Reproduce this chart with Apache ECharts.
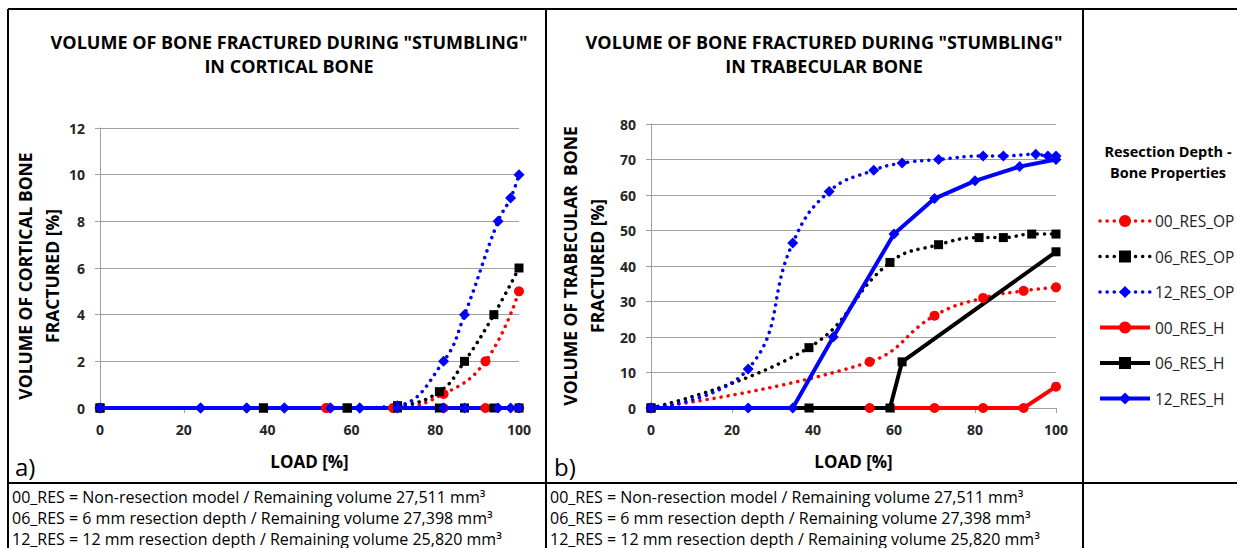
<!DOCTYPE html>
<html>
<head>
<meta charset="utf-8">
<title>Volume of bone fractured during stumbling</title>
<script src="https://cdn.jsdelivr.net/npm/echarts@6/dist/echarts.min.js"></script>
<style>
  html, body { margin: 0; padding: 0; background: #fff; }
  #main { width: 1237px; height: 548px; }
</style>
</head>
<body>
<div id="main"></div>
<script>
// load positions [%] of each model
const loadRes00 = [0, 54, 70, 82, 92, 100]
const loadRes06 = [0, 39, 59, 71, 81, 87, 94, 100]
const loadRes12 = [0, 24, 35, 44, 55, 62, 71, 82, 87, 95, 98, 100]
const loadRes06H = [0, 39, 59, 62, 100]
const loadRes12H = [0, 24, 35, 45, 60, 70, 80, 91, 100]

// a) cortical bone fractured [%]
const cortOP00 = [0, 0, 0, 0.6, 2, 5]
const cortOP06 = [0, 0, 0, 0.1, 0.7, 2, 4, 6]
const cortOP12 = [0, 0, 0, 0, 0, 0, 0.1, 2, 4, 8, 9, 10]
const cortH00 = [0, 0, 0, 0, 0, 0]
const cortH06 = [0, 0, 0, 0, 0, 0, 0, 0]
const cortH12 = [0, 0, 0, 0, 0, 0, 0, 0, 0, 0, 0, 0]

// b) trabecular bone fractured [%]
const trabOP00 = [0, 13, 26, 31, 33, 34]
const trabOP06 = [0, 17, 41, 46, 48, 48, 49, 49]
const trabOP12 = [0, 11, 46.5, 61, 67, 69, 70, 71, 71, 71.5, 71, 71]
const trabH00 = [0, 0, 0, 0, 0, 6]
const trabH06 = [0, 0, 0, 13, 44]
const trabH12 = [0, 0, 0, 20, 49, 59, 64, 68, 70]

const seriesNames = ['00_RES_OP', '06_RES_OP', '12_RES_OP', '00_RES_H', '06_RES_H', '12_RES_H']

const notes = [
  '00_RES = Non-resection model / Remaining volume 27,511 mm³',
  '06_RES = 6 mm resection depth / Remaining volume 27,398 mm³',
  '12_RES = 12 mm resection depth / Remaining volume 25,820 mm³'
]

const FONT = 'Open Sans'
const RED = '#ff0000'
const BLACK = '#000000'
const BLUE = '#0000ff'
const DOT = [0.1, 7]

const pair = (xs, ys) => xs.map((x, i) => [x, ys[i]])

function opLine(name, color, symbol, size, xs, ys, idx) {
  return {
    name: name, type: 'line', xAxisIndex: idx, yAxisIndex: idx,
    data: pair(xs, ys),
    smooth: 0.45,
    symbol: symbol, symbolSize: size,
    itemStyle: { color: color },
    lineStyle: { color: color, width: 3.5, type: DOT, cap: 'round' }
  }
}
function hLine(name, color, symbol, size, xs, ys, idx) {
  return {
    name: name, type: 'line', xAxisIndex: idx, yAxisIndex: idx,
    data: pair(xs, ys),
    symbol: symbol, symbolSize: size,
    itemStyle: { color: color },
    lineStyle: { color: color, width: 4 }
  }
}

function xAxisOf(idx) {
  return {
    type: 'value', gridIndex: idx, min: 0, max: 100, interval: 20,
    name: 'LOAD [%]', nameLocation: 'middle', nameGap: 45,
    nameTextStyle: { fontFamily: FONT, fontWeight: 'bold', fontSize: 17, color: '#000' },
    splitLine: { show: false },
    axisLine: { lineStyle: { color: '#a0a0a0', width: 1 } },
    axisTick: { show: true, length: 5, lineStyle: { color: '#a0a0a0' } },
    axisLabel: { fontFamily: FONT, fontWeight: 'bold', fontSize: 14, color: '#262626', margin: 14 }
  }
}
function yAxisOf(idx, max, interval, name, gap, pad) {
  return {
    type: 'value', gridIndex: idx, min: 0, max: max, interval: interval,
    name: name, nameLocation: 'middle', nameGap: gap,
    nameTextStyle: { fontFamily: FONT, fontWeight: 'bold', fontSize: 17.5, color: '#000', lineHeight: 27, padding: pad },
    splitLine: { show: true, lineStyle: { color: '#a0a0a0', width: 1 } },
    axisLine: { show: true, lineStyle: { color: '#a0a0a0', width: 1 } },
    axisTick: { show: true, length: 5, lineStyle: { color: '#a0a0a0' } },
    axisLabel: { fontFamily: FONT, fontWeight: 'bold', fontSize: 14, color: '#262626', margin: 15 }
  }
}

const legendItems = [
  { name: seriesNames[0], lineStyle: { type: DOT, width: 3.5, cap: 'round' } },
  { name: seriesNames[1], lineStyle: { type: DOT, width: 3.5, cap: 'round' } },
  { name: seriesNames[2], lineStyle: { type: DOT, width: 3.5, cap: 'round' } },
  { name: seriesNames[3], lineStyle: { width: 4 } },
  { name: seriesNames[4], lineStyle: { width: 4 } },
  { name: seriesNames[5], lineStyle: { width: 4 } }
]

const frame = [
  [8, 9, 1237, 9],
  [8, 483, 1237, 483],
  [8, 9, 8, 548],
  [546, 9, 546, 548],
  [1083, 9, 1083, 548]
].map(p => ({
  type: 'line', silent: true,
  shape: { x1: p[0], y1: p[1], x2: p[2], y2: p[3] },
  style: { stroke: '#000', lineWidth: 2 }
}))

const titleStyle = { fontFamily: FONT, fontWeight: 'bold', fontSize: 18, color: '#000', lineHeight: 24 }
const noteStyle = { fontFamily: FONT, fontWeight: 'normal', fontSize: 16, color: '#000', lineHeight: 21 }

const myChart = echarts.init(document.getElementById('main'), null, { renderer: 'svg' })
myChart.setOption({
  animation: false,
  backgroundColor: '#fff',
  title: [
    { text: 'VOLUME OF BONE FRACTURED DURING "STUMBLING"\nIN CORTICAL BONE', left: 289, top: 30, padding: 0, textAlign: 'center', textStyle: titleStyle },
    { text: 'VOLUME OF BONE FRACTURED DURING "STUMBLING"\nIN TRABECULAR BONE', left: 824, top: 30, padding: 0, textAlign: 'center', textStyle: titleStyle },
    { text: 'Resection Depth -\nBone Properties', left: 1168, top: 141, padding: 0, textAlign: 'center',
      textStyle: { fontFamily: FONT, fontWeight: 'bold', fontSize: 14.5, color: '#000', lineHeight: 21 } },
    { text: 'a)', left: 10, top: 449, textStyle: { fontFamily: FONT, fontWeight: 'normal', fontSize: 24, color: '#000' } },
    { text: 'b)', left: 549, top: 449, textStyle: { fontFamily: FONT, fontWeight: 'normal', fontSize: 24, color: '#000' } },
    { text: notes.join('\n'), left: 12, top: 486, padding: 0, textStyle: noteStyle },
    { text: notes.join('\n'), left: 550, top: 486, padding: 0, textStyle: noteStyle }
  ],
  legend: {
    orient: 'vertical', left: 1093, top: 208,
    itemWidth: 50, itemHeight: 15, itemGap: 19.5,
    textStyle: { fontFamily: FONT, fontSize: 15.5, color: '#222' },
    data: legendItems
  },
  grid: [
    { left: 100, top: 128, width: 419, height: 280 },
    { left: 651, top: 124, width: 405, height: 284 }
  ],
  xAxis: [xAxisOf(0), xAxisOf(1)],
  yAxis: [
    yAxisOf(0, 12, 2, 'VOLUME OF CORTICAL BONE\nFRACTURED [%]', 27, [0, 16, 0, 0]),
    yAxisOf(1, 80, 10, 'VOLUME OF TRABECULAR  BONE\nFRACTURED [%]', 41, [0, 0, 0, 0])
  ],
  graphic: frame,
  series: [
    opLine(seriesNames[0], RED, 'circle', 10, loadRes00, cortOP00, 0),
    opLine(seriesNames[1], BLACK, 'rect', 9, loadRes06, cortOP06, 0),
    opLine(seriesNames[2], BLUE, 'diamond', 11, loadRes12, cortOP12, 0),
    hLine(seriesNames[3], RED, 'circle', 10, loadRes00, cortH00, 0),
    hLine(seriesNames[4], BLACK, 'rect', 9, loadRes06, cortH06, 0),
    hLine(seriesNames[5], BLUE, 'diamond', 11, loadRes12, cortH12, 0),
    opLine(seriesNames[0], RED, 'circle', 10, loadRes00, trabOP00, 1),
    opLine(seriesNames[1], BLACK, 'rect', 9, loadRes06, trabOP06, 1),
    opLine(seriesNames[2], BLUE, 'diamond', 11, loadRes12, trabOP12, 1),
    hLine(seriesNames[3], RED, 'circle', 10, loadRes00, trabH00, 1),
    hLine(seriesNames[4], BLACK, 'rect', 9, loadRes06H, trabH06, 1),
    hLine(seriesNames[5], BLUE, 'diamond', 11, loadRes12H, trabH12, 1)
  ]
})
window.addEventListener('resize', () => {
  myChart.resize()
})
</script>
</body>
</html>
